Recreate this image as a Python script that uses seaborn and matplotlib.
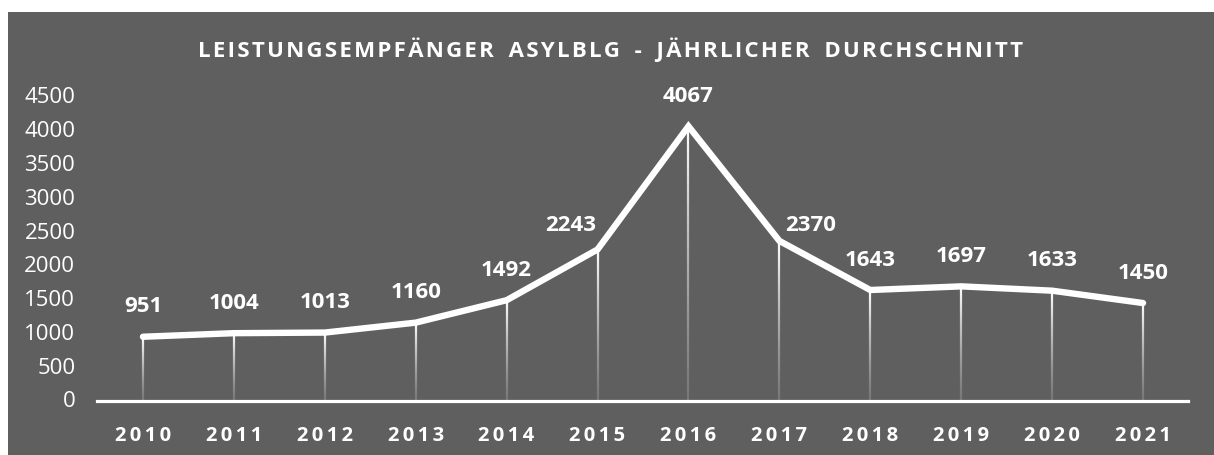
import numpy as np
import pandas as pd
import matplotlib
matplotlib.use("Agg")
import matplotlib.pyplot as plt
import seaborn as sns
from matplotlib.collections import LineCollection
from matplotlib.patches import Rectangle

# data
jahre = ["2010", "2011", "2012", "2013", "2014", "2015",
         "2016", "2017", "2018", "2019", "2020", "2021"]
empfaenger = [951, 1004, 1013, 1160, 1492, 2243, 4067, 2370, 1643, 1697, 1633, 1450]
y_ticks = [0, 500, 1000, 1500, 2000, 2500, 3000, 3500, 4000, 4500]
titel = "LEISTUNGSEMPFÄNGER ASYLBLG - JÄHRLICHER DURCHSCHNITT"

df = pd.DataFrame({"pos": range(len(jahre)), "jahr": jahre, "wert": empfaenger})

sns.set_style("white")
plt.rcParams["font.family"] = ["Open Sans", "DejaVu Sans"]

BG = "#5f5f5f"
W, H = 1214, 456


def sperren(s, sp="\u200a"):
    # poor man's letter spacing: narrow space between letters
    return sp.join(s)


fig = plt.figure(figsize=(W / 100, H / 100), dpi=100)
fig.patch.set_facecolor("white")
fig.patches.append(Rectangle((8 / W, 0), 1 - 8 / W, (H - 13) / H,
                             transform=fig.transFigure, facecolor=BG,
                             edgecolor="none", zorder=-10))

ax = fig.add_axes([97.5 / W, 54 / H, 1091 / W, 304 / H])
ax.set_facecolor("none")

# drop lines with a white-to-grey fade
for x, v in zip(df["pos"], df["wert"]):
    ys = np.linspace(0, v, 60)
    segs = [[(x, ys[i]), (x, ys[i + 1])] for i in range(len(ys) - 1)]
    t = np.linspace(0, 1, len(segs))
    cols = [(0.55 + 0.45 * k, 0.55 + 0.45 * k, 0.55 + 0.45 * k, 0.55 + 0.45 * k) for k in t]
    ax.add_collection(LineCollection(segs, colors=cols, linewidths=1.6, zorder=2))

sns.lineplot(data=df, x="pos", y="wert", color="white", linewidth=4.6, ax=ax,
             zorder=3, solid_capstyle="round", solid_joinstyle="miter")

# labels sit ~31px above the point; two of them are nudged off the line
px = 0.72
nudge = {5: (-27, 25), 7: (31, 16)}
for x, v in zip(df["pos"], df["wert"]):
    dx, dy = nudge.get(x, (0, 31))
    ax.annotate(str(v), (x, v), xytext=(dx * px, dy * px), textcoords="offset points",
                ha="center", va="center", color="white", fontsize=16,
                fontweight="bold")

ax.set_xlim(-0.5, len(jahre) - 0.5)
ax.set_ylim(0, 4500)
ax.set_xticks(df["pos"])
ax.set_xticklabels([sperren(j, "\u2006") for j in jahre], fontsize=14.5,
                   fontweight="bold", color="white")
ax.set_yticks(y_ticks)
ax.set_yticklabels([str(t) for t in y_ticks], fontsize=16, color="white")
ax.tick_params(axis="x", length=0, pad=17)
ax.tick_params(axis="y", length=0, pad=16)
for lab in ax.get_yticklabels():
    lab.set_verticalalignment("center")
ax.set_xlabel("")
ax.set_ylabel("")

for sp in ["top", "right", "left"]:
    ax.spines[sp].set_visible(False)
ax.spines["bottom"].set_color("white")
ax.spines["bottom"].set_linewidth(2.3)
ax.spines["bottom"].set_zorder(4)

fig.text(0.503, (H - 50) / H, sperren(titel).replace("\u200a \u200a", "\u2009 \u2009"),
         ha="center", va="center", color="white", fontsize=16,
         fontweight="bold")

fig.savefig("out.png", dpi=100, facecolor=fig.get_facecolor())
